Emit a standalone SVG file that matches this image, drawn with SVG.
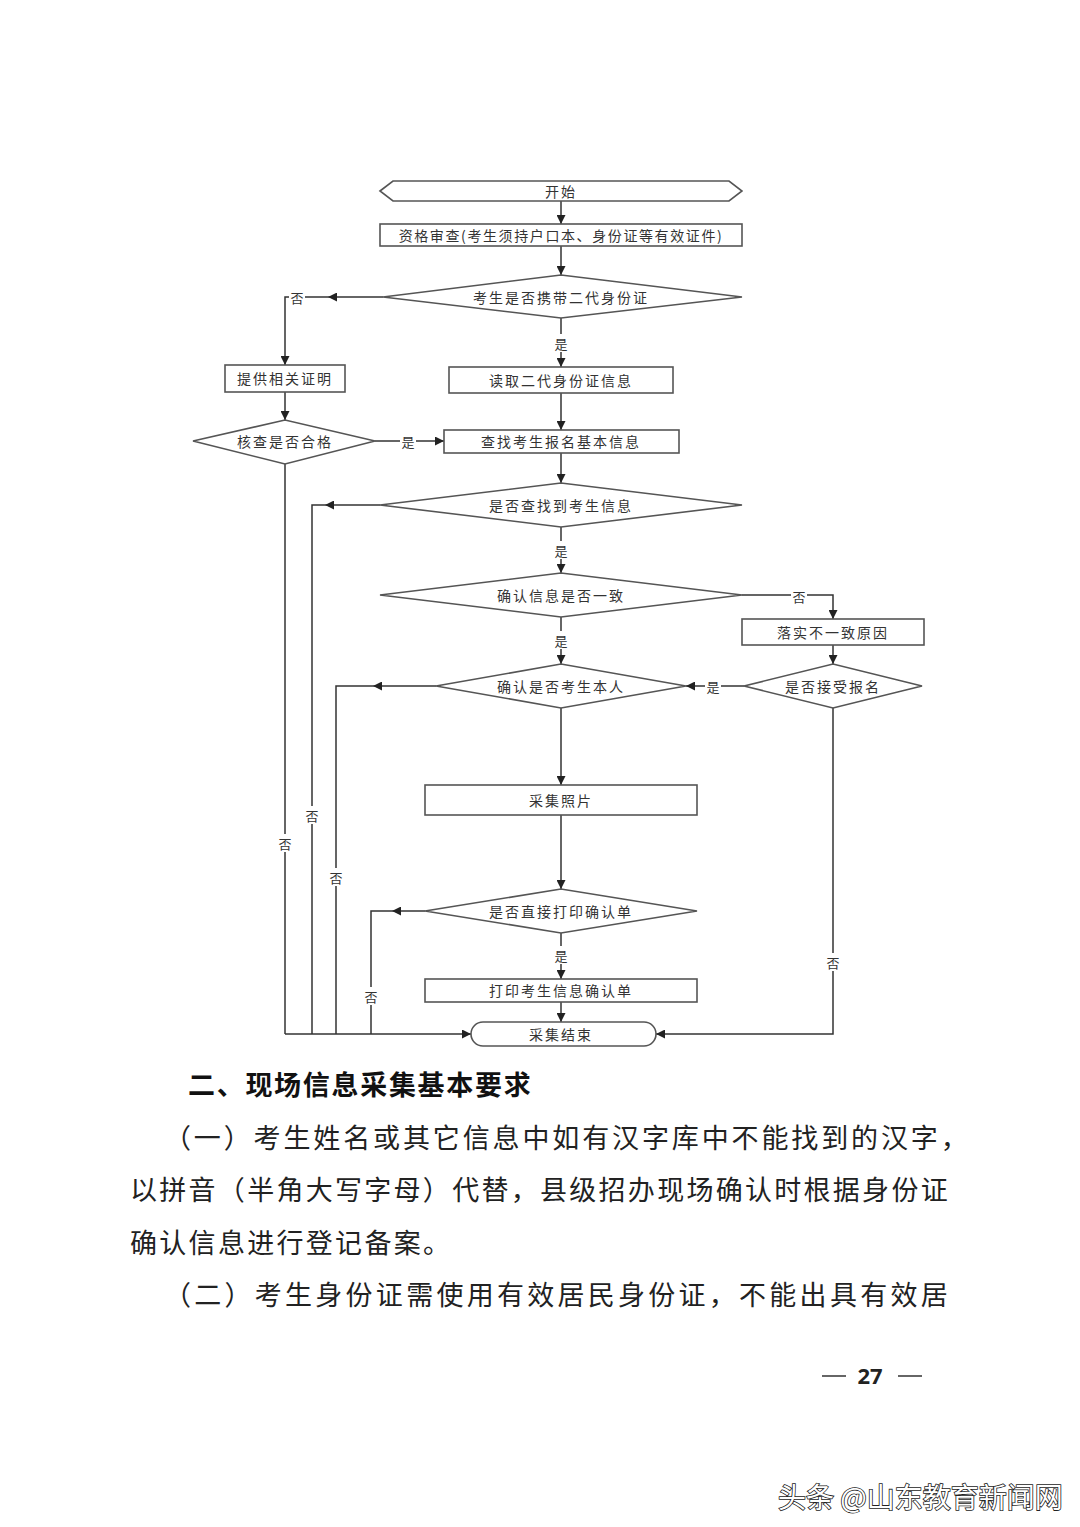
<svg xmlns="http://www.w3.org/2000/svg" width="1080" height="1527" viewBox="0 0 1080 1527">
<defs>
<marker id="ah" viewBox="0 0 10 10" refX="10" refY="5" markerWidth="9" markerHeight="9" markerUnits="userSpaceOnUse" orient="auto">
<path d="M0,0 L10,5 L0,10 z" fill="#222"/>
</marker>
</defs>
<style>
.n{fill:#fff;stroke:#555;stroke-width:1.6}
.t{font-family:"Noto Sans CJK SC","Noto Sans CJK JP",sans-serif;font-size:14px;fill:#333;text-anchor:middle;dominant-baseline:central;letter-spacing:2px}
.l{font-family:"Noto Sans CJK SC",sans-serif;font-size:13px;fill:#333;text-anchor:middle;dominant-baseline:central}
.c{fill:none;stroke:#333;stroke-width:1.5}
.a{fill:none;stroke:#333;stroke-width:1.5;marker-end:url(#ah)}
.lb{fill:#fff}
.body{font-family:"Noto Sans CJK SC",sans-serif;font-size:27px;fill:#222;letter-spacing:2.3px}
</style>
<rect width="1080" height="1527" fill="#fff"/>

<g id="connectors">
<path class="a" d="M561,201 L561,224"/>
<path class="a" d="M561,246 L561,275"/>
<path class="a" d="M383,297 L328,297"/>
<path class="a" d="M328,297 L285,297 L285,365"/>
<path class="a" d="M561,318 L561,367"/>
<path class="a" d="M285,392 L285,420"/>
<path class="a" d="M561,393 L561,430"/>
<path class="a" d="M375,441 L444,441"/>
<path class="a" d="M561,453 L561,483"/>
<path class="a" d="M380,505 L325,505"/>
<path class="c" d="M325,505 L312,505 L312,1034"/>
<path class="a" d="M561,527 L561,573"/>
<path class="a" d="M742,595 L833,595 L833,619"/>
<path class="a" d="M833,645 L833,664"/>
<path class="a" d="M561,617 L561,664"/>
<path class="a" d="M744,686 L686,686"/>
<path class="a" d="M436,686 L373,686"/>
<path class="c" d="M373,686 L336,686 L336,1034"/>
<path class="a" d="M561,708 L561,785"/>
<path class="a" d="M561,815 L561,889"/>
<path class="a" d="M425,911 L392,911"/>
<path class="c" d="M392,911 L371,911 L371,1034"/>
<path class="a" d="M561,933 L561,979"/>
<path class="a" d="M561,1002 L561,1022"/>
<path class="c" d="M285,464 L285,1034"/>
<path class="a" d="M285,1034 L471,1034"/>
<path class="a" d="M833,708 L833,1034 L656,1034"/>
<!-- labels -->
<rect class="lb" x="289" y="288" width="16" height="18"/>
<text class="l" x="297" y="297">否</text>
<rect class="lb" x="553" y="334" width="16" height="18"/>
<text class="l" x="561" y="343">是</text>
<rect class="lb" x="400" y="432" width="16" height="18"/>
<text class="l" x="408" y="441">是</text>
<rect class="lb" x="553" y="541" width="16" height="18"/>
<text class="l" x="561" y="550">是</text>
<rect class="lb" x="791" y="587" width="16" height="18"/>
<text class="l" x="799" y="596">否</text>
<rect class="lb" x="553" y="631" width="16" height="18"/>
<text class="l" x="561" y="640">是</text>
<rect class="lb" x="705" y="677" width="16" height="18"/>
<text class="l" x="713" y="686">是</text>
<rect class="lb" x="277" y="834" width="16" height="18"/>
<text class="l" x="285" y="843">否</text>
<rect class="lb" x="304" y="806" width="16" height="18"/>
<text class="l" x="312" y="815">否</text>
<rect class="lb" x="328" y="868" width="16" height="18"/>
<text class="l" x="336" y="877">否</text>
<rect class="lb" x="553" y="946" width="16" height="18"/>
<text class="l" x="561" y="955">是</text>
<rect class="lb" x="363" y="987" width="16" height="18"/>
<text class="l" x="371" y="996">否</text>
<rect class="lb" x="825" y="953" width="16" height="18"/>
<text class="l" x="833" y="962">否</text>
</g>

<g id="start">
<polygon class="n" points="380,191 393,181 729,181 742,191 729,201 393,201"/>
<text class="t" x="561" y="191">开始</text>
</g>
<g id="check">
<rect class="n" x="380" y="224" width="362" height="22"/>
<text class="t" x="561" y="235" style="letter-spacing:1.6px">资格审查(考生须持户口本、身份证等有效证件)</text>
</g>
<g id="d1">
<polygon class="n" points="383,297 561,275 742,297 561,318"/>
<text class="t" x="561" y="297">考生是否携带二代身份证</text>
</g>
<g id="prove">
<rect class="n" x="225" y="365" width="120" height="27"/>
<text class="t" x="285" y="378">提供相关证明</text>
</g>
<g id="read">
<rect class="n" x="449" y="367" width="224" height="26"/>
<text class="t" x="561" y="380">读取二代身份证信息</text>
</g>
<g id="d2">
<polygon class="n" points="193,441 285,420 375,441 285,464"/>
<text class="t" x="285" y="441">核查是否合格</text>
</g>
<g id="find">
<rect class="n" x="444" y="430" width="235" height="23"/>
<text class="t" x="561" y="441">查找考生报名基本信息</text>
</g>
<g id="d3">
<polygon class="n" points="380,505 561,483 742,505 561,527"/>
<text class="t" x="561" y="505">是否查找到考生信息</text>
</g>
<g id="d4">
<polygon class="n" points="380,595 561,573 742,595 561,617"/>
<text class="t" x="561" y="595">确认信息是否一致</text>
</g>
<g id="cause">
<rect class="n" x="742" y="619" width="182" height="26"/>
<text class="t" x="833" y="632">落实不一致原因</text>
</g>
<g id="d5">
<polygon class="n" points="436,686 561,664 686,686 561,708"/>
<text class="t" x="561" y="686">确认是否考生本人</text>
</g>
<g id="d6">
<polygon class="n" points="744,686 833,664 922,686 833,708"/>
<text class="t" x="833" y="686">是否接受报名</text>
</g>
<g id="photo">
<rect class="n" x="425" y="785" width="272" height="30"/>
<text class="t" x="561" y="800">采集照片</text>
</g>
<g id="d7">
<polygon class="n" points="425,911 561,889 697,911 561,933"/>
<text class="t" x="561" y="911">是否直接打印确认单</text>
</g>
<g id="print">
<rect class="n" x="425" y="979" width="272" height="23"/>
<text class="t" x="561" y="990">打印考生信息确认单</text>
</g>
<g id="end">
<rect class="n" x="471" y="1022" width="185" height="24" rx="12" ry="12"/>
<text class="t" x="561" y="1034">采集结束</text>
</g>

<g id="text">
<text x="188" y="1095" style="font-family:'Noto Sans CJK SC',sans-serif;font-size:27px;font-weight:bold;fill:#111;letter-spacing:1.7px">二、现场信息采集基本要求</text>
<text class="body" x="164" y="1148" textLength="806" lengthAdjust="spacing">（一）考生姓名或其它信息中如有汉字库中不能找到的汉字，</text>
<text class="body" x="130" y="1200" textLength="820" lengthAdjust="spacing">以拼音（半角大写字母）代替，县级招办现场确认时根据身份证</text>
<text class="body" x="130" y="1253">确认信息进行登记备案。</text>
<text class="body" x="164" y="1305" textLength="786" lengthAdjust="spacing">（二）考生身份证需使用有效居民身份证，不能出具有效居</text>
<text x="870" y="1384" style="font-family:'Noto Sans',sans-serif;font-size:22px;font-weight:bold;fill:#222;text-anchor:middle">27</text>
<line x1="822" y1="1376" x2="846" y2="1376" stroke="#333" stroke-width="1.5"/>
<line x1="898" y1="1376" x2="922" y2="1376" stroke="#333" stroke-width="1.5"/>
<text x="778" y="1508" style="font-family:'Noto Sans CJK SC',sans-serif;font-size:28px;fill:#fff;stroke:#222;stroke-width:1.6px;paint-order:stroke">头条 @山东教育新闻网</text>
</g>
</svg>
